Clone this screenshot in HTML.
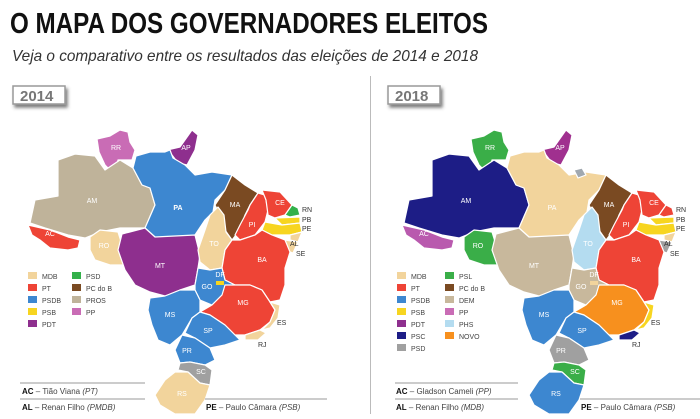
<!DOCTYPE html>
<html><head><meta charset="utf-8"><style>
body{margin:0;background:#fff;width:700px;height:414px;overflow:hidden;font-family:"Liberation Sans",sans-serif;}
</style></head><body>
<svg width="700" height="414" viewBox="0 0 700 414" xmlns="http://www.w3.org/2000/svg" font-family="Liberation Sans Narrow, Liberation Sans, sans-serif">
<defs>
<filter id="sh" x="-20%" y="-20%" width="160%" height="180%"><feDropShadow dx="2" dy="3" stdDeviation="1.5" flood-color="#444" flood-opacity="0.7"/></filter>
<g id="shapes">
</g>
</defs>
<text x="10" y="33" font-size="29" font-weight="bold" fill="#111" textLength="478" lengthAdjust="spacingAndGlyphs">O MAPA DOS GOVERNADORES ELEITOS</text>
<text x="12" y="61" font-size="16" font-style="italic" fill="#333" textLength="466" lengthAdjust="spacingAndGlyphs">Veja o comparativo entre os resultados das eleições de 2014 e 2018</text>
<rect x="13" y="86" width="52" height="18" fill="#fff" stroke="#999" stroke-width="1.5" filter="url(#sh)"/>
<text x="20" y="101" font-size="15" font-weight="bold" fill="#777">2014</text>
<rect x="388" y="86" width="52" height="18" fill="#fff" stroke="#999" stroke-width="1.5" filter="url(#sh)"/>
<text x="395" y="101" font-size="15" font-weight="bold" fill="#777">2018</text>
<line x1="370.5" y1="76" x2="370.5" y2="414" stroke="#bbb" stroke-width="1"/>

<g stroke="#fff" stroke-width="1.2" stroke-linejoin="round" id="m2014">
<polygon fill="#c96cb5" points="97,139 110,136 120,130 128,132 130,142 135,150 132,160 118,160 115,175 105,165 99,152"/>
<polygon fill="#8e2f8e" points="167,150 180,147 192,130 198,135 195,150 187,165 178,163 172,155"/>
<polygon fill="#bfb39a" points="30,223 35,200 58,196 58,160 75,154 95,156 105,170 120,160 133,168 142,185 150,188 155,205 145,228 120,228 100,232 85,238 68,235 45,228"/>
<polygon fill="#ee4436" points="28,225 50,230 68,237 80,240 78,248 68,250 50,248 40,240 32,235"/>
<polygon fill="#f2d49c" points="90,237 100,230 118,232 123,248 132,255 128,265 110,265 95,260 90,250"/>
<polygon fill="#3d87d0" points="136,156 150,152 165,152 170,150 173,158 185,165 195,175 212,172 232,175 225,190 215,200 213,212 205,220 195,235 170,238 155,237 145,228 155,205 150,188 142,185 133,168"/>
<polygon fill="#8e2f8e" points="122,234 145,228 155,237 195,235 200,255 198,268 195,285 180,290 165,296 150,292 135,285 125,270 118,250"/>
<polygon fill="#7a4a22" points="232,175 245,185 258,193 250,205 245,215 240,230 232,240 225,230 220,215 215,205 225,190"/>
<polygon fill="#f2d49c" points="218,207 224,215 226,232 232,240 225,250 222,268 210,270 200,262 198,250 205,230 210,215"/>
<polygon fill="#ee4436" points="258,193 265,195 268,210 265,222 255,235 240,240 235,235 240,225 248,210 250,205"/>
<polygon fill="#ee4436" points="262,190 280,192 292,205 285,215 275,218 268,215 266,200"/>
<polygon fill="#33b04a" points="292,205 298,208 300,215 290,217 285,215"/>
<polygon fill="#f7d520" points="275,218 300,217 300,223 282,225"/>
<polygon fill="#f7d520" points="265,222 282,225 300,223 302,232 290,235 272,235 262,230"/>
<polygon fill="#f2d49c" points="290,235 302,232 298,242 290,240"/>
<polygon fill="#f2d49c" points="285,240 298,242 293,253 285,250"/>
<polygon fill="#ee4436" points="232,240 240,240 255,235 262,230 272,235 285,240 290,252 285,268 285,285 280,300 270,302 262,290 250,285 235,285 225,280 222,268 225,250"/>
<polygon fill="#3d87d0" points="198,268 210,270 222,268 225,280 235,285 222,295 212,305 200,300 195,290 195,285"/>
<rect fill="#f7d520" x="216" y="281" width="8" height="4" stroke="none"/>
<polygon fill="#ee4436" points="225,285 235,285 250,285 262,290 270,302 275,310 270,322 260,330 245,335 235,335 225,325 210,315 200,312 212,305 222,295"/>
<polygon fill="#f2d49c" points="270,302 280,305 278,318 270,328 262,330 270,322 275,310"/>
<polygon fill="#f2d49c" points="245,335 260,330 266,333 258,340 245,340"/>
<polygon fill="#3d87d0" points="150,298 165,296 180,290 195,290 200,300 200,312 192,318 182,335 170,345 158,340 152,325 148,310"/>
<polygon fill="#3d87d0" points="192,318 200,312 210,315 225,325 235,335 240,340 225,345 210,348 195,338 185,333"/>
<polygon fill="#3d87d0" points="182,335 195,338 210,348 215,360 205,365 190,362 180,363 175,350"/>
<polygon fill="#a0a0a0" points="180,363 190,362 205,365 212,370 210,385 200,383 188,372 178,370"/>
<polygon fill="#f2d49c" points="175,372 188,372 200,383 210,385 205,400 195,414 175,414 160,405 155,395 165,380"/>
</g>

<g stroke="#fff" stroke-width="1.2" stroke-linejoin="round" transform="translate(374,0)">
<polygon fill="#3aae48" points="97,139 110,136 120,130 128,132 130,142 135,150 132,160 118,160 115,175 105,165 99,152"/>
<polygon fill="#a0308f" points="167,150 180,147 192,130 198,135 195,150 187,165 178,163 172,155"/>
<polygon fill="#1d1d86" points="30,223 35,200 58,196 58,160 75,154 95,156 105,170 120,160 133,168 142,185 150,188 155,205 145,228 120,228 100,232 85,238 68,235 45,228"/>
<polygon fill="#b95aae" points="28,225 50,230 68,237 80,240 78,248 68,250 50,248 40,240 32,235"/>
<polygon fill="#3aae48" points="90,237 100,230 118,232 123,248 132,255 128,265 110,265 95,260 90,250"/>
<polygon fill="#f2d49c" points="136,156 150,152 165,152 170,150 173,158 185,165 195,175 212,172 232,175 225,190 215,200 213,212 205,220 195,235 170,238 155,237 145,228 155,205 150,188 142,185 133,168"/>
<polygon fill="#a0a8b0" points="200,170 208,168 212,175 204,178"/>
<polygon fill="#c8b89c" points="122,234 145,228 155,237 195,235 200,255 198,268 195,285 180,290 165,296 150,292 135,285 125,270 118,250"/>
<polygon fill="#7a4a22" points="232,175 245,185 258,193 250,205 245,215 240,230 232,240 225,230 220,215 215,205 225,190"/>
<polygon fill="#b4dcf0" points="218,207 224,215 226,232 232,240 225,250 222,268 210,270 200,262 198,250 205,230 210,215"/>
<polygon fill="#ee4436" points="258,193 265,195 268,210 265,222 255,235 240,240 235,235 240,225 248,210 250,205"/>
<polygon fill="#ee4436" points="262,190 280,192 292,205 285,215 275,218 268,215 266,200"/>
<polygon fill="#ee4436" points="292,205 298,208 300,215 290,217 285,215"/>
<polygon fill="#f7d520" points="275,218 300,217 300,223 282,225"/>
<polygon fill="#f7d520" points="265,222 282,225 300,223 302,232 290,235 272,235 262,230"/>
<polygon fill="#f2d49c" points="290,235 302,232 298,242 290,240"/>
<polygon fill="#a0a0a0" points="285,240 298,242 293,253 285,250"/>
<polygon fill="#ee4436" points="232,240 240,240 255,235 262,230 272,235 285,240 290,252 285,268 285,285 280,300 270,302 262,290 250,285 235,285 225,280 222,268 225,250"/>
<polygon fill="#c8b89c" points="198,268 210,270 222,268 225,280 235,285 222,295 212,305 200,300 195,290 195,285"/>
<rect fill="#f2d49c" x="216" y="281" width="8" height="4" stroke="none"/>
<polygon fill="#f7901e" points="225,285 235,285 250,285 262,290 270,302 275,310 270,322 260,330 245,335 235,335 225,325 210,315 200,312 212,305 222,295"/>
<polygon fill="#f7d520" points="270,302 280,305 278,318 270,328 262,330 270,322 275,310"/>
<polygon fill="#1d1d86" points="245,335 260,330 266,333 258,340 245,340"/>
<polygon fill="#3d87d0" points="150,298 165,296 180,290 195,290 200,300 200,312 192,318 182,335 170,345 158,340 152,325 148,310"/>
<polygon fill="#3d87d0" points="192,318 200,312 210,315 225,325 235,335 240,340 225,345 210,348 195,338 185,333"/>
<polygon fill="#a0a0a0" points="182,335 195,338 210,348 215,360 205,365 190,362 180,363 175,350"/>
<polygon fill="#3aae48" points="180,363 190,362 205,365 212,370 210,385 200,383 188,372 178,370"/>
<polygon fill="#3d87d0" points="175,372 188,372 200,383 210,385 205,400 195,414 175,414 160,405 155,395 165,380"/>
</g>

<g font-size="7" fill="#fff" text-anchor="middle">
<text x="116" y="150">RR</text><text x="186" y="150">AP</text><text x="92" y="203">AM</text><text x="50" y="236">AC</text><text x="104" y="248">RO</text><text x="178" y="210" font-weight="bold">PA</text><text x="160" y="268">MT</text><text x="235" y="207">MA</text><text x="214" y="246">TO</text><text x="252" y="227">PI</text><text x="280" y="205">CE</text><text x="262" y="262">BA</text><text x="220" y="277">DF</text><text x="207" y="289">GO</text><text x="243" y="305">MG</text><text x="170" y="317">MS</text><text x="208" y="333">SP</text><text x="187" y="353">PR</text><text x="201" y="374">SC</text><text x="182" y="396">RS</text>
<g transform="translate(374,0)"><text x="116" y="150">RR</text><text x="186" y="150">AP</text><text x="92" y="203">AM</text><text x="50" y="236">AC</text><text x="104" y="248">RO</text><text x="178" y="210">PA</text><text x="160" y="268">MT</text><text x="235" y="207">MA</text><text x="214" y="246">TO</text><text x="252" y="227">PI</text><text x="280" y="205">CE</text><text x="262" y="262">BA</text><text x="220" y="277">DF</text><text x="207" y="289">GO</text><text x="243" y="305">MG</text><text x="170" y="317">MS</text><text x="208" y="333">SP</text><text x="187" y="353">PR</text><text x="201" y="374">SC</text><text x="182" y="396">RS</text></g>
</g>
<g font-size="7" fill="#333">
<text x="302" y="212">RN</text><text x="302" y="222">PB</text><text x="302" y="231">PE</text><text x="290" y="246">AL</text><text x="296" y="256">SE</text><text x="277" y="325">ES</text><text x="258" y="347">RJ</text>
<g transform="translate(374,0)"><text x="302" y="212">RN</text><text x="302" y="222">PB</text><text x="302" y="231">PE</text><text x="290" y="246">AL</text><text x="296" y="256">SE</text><text x="277" y="325">ES</text><text x="258" y="347">RJ</text></g>
</g>

<g font-size="7" fill="#444">
<rect x="28" y="272" width="9" height="7" fill="#f2d49c"/><text x="42" y="279">MDB</text>
<rect x="28" y="284" width="9" height="7" fill="#ee4436"/><text x="42" y="291">PT</text>
<rect x="28" y="296" width="9" height="7" fill="#3d87d0"/><text x="42" y="303">PSDB</text>
<rect x="28" y="308" width="9" height="7" fill="#f7d520"/><text x="42" y="315">PSB</text>
<rect x="28" y="320" width="9" height="7" fill="#8e2f8e"/><text x="42" y="327">PDT</text>
<rect x="72" y="272" width="9" height="7" fill="#33b04a"/><text x="86" y="279">PSD</text>
<rect x="72" y="284" width="9" height="7" fill="#7a4a22"/><text x="86" y="291">PC do B</text>
<rect x="72" y="296" width="9" height="7" fill="#bfb39a"/><text x="86" y="303">PROS</text>
<rect x="72" y="308" width="9" height="7" fill="#c96cb5"/><text x="86" y="315">PP</text>

<rect x="397" y="272" width="9" height="7" fill="#f2d49c"/><text x="411" y="279">MDB</text>
<rect x="397" y="284" width="9" height="7" fill="#ee4436"/><text x="411" y="291">PT</text>
<rect x="397" y="296" width="9" height="7" fill="#3d87d0"/><text x="411" y="303">PSDB</text>
<rect x="397" y="308" width="9" height="7" fill="#f7d520"/><text x="411" y="315">PSB</text>
<rect x="397" y="320" width="9" height="7" fill="#8e2f8e"/><text x="411" y="327">PDT</text>
<rect x="397" y="332" width="9" height="7" fill="#1d1d86"/><text x="411" y="339">PSC</text>
<rect x="397" y="344" width="9" height="7" fill="#a0a0a0"/><text x="411" y="351">PSD</text>
<rect x="445" y="272" width="9" height="7" fill="#3aae48"/><text x="459" y="279">PSL</text>
<rect x="445" y="284" width="9" height="7" fill="#7a4a22"/><text x="459" y="291">PC do B</text>
<rect x="445" y="296" width="9" height="7" fill="#c8b89c"/><text x="459" y="303">DEM</text>
<rect x="445" y="308" width="9" height="7" fill="#c96cb5"/><text x="459" y="315">PP</text>
<rect x="445" y="320" width="9" height="7" fill="#b4dcf0"/><text x="459" y="327">PHS</text>
<rect x="445" y="332" width="9" height="7" fill="#f7901e"/><text x="459" y="339">NOVO</text>
</g>

<g stroke="#999" stroke-width="1">
<line x1="20" y1="383" x2="145" y2="383"/><line x1="20" y1="399" x2="145" y2="399"/><line x1="205" y1="399" x2="327" y2="399"/>
<line x1="395" y1="383" x2="518" y2="383"/><line x1="395" y1="399" x2="518" y2="399"/><line x1="580" y1="399" x2="700" y2="399"/>
</g>
<g font-size="8" fill="#444">
<text x="22" y="394"><tspan font-weight="bold" fill="#111">AC</tspan> – Tião Viana <tspan font-style="italic">(PT)</tspan></text>
<text x="22" y="410"><tspan font-weight="bold" fill="#111">AL</tspan> – Renan Filho <tspan font-style="italic">(PMDB)</tspan></text>
<text x="206" y="410"><tspan font-weight="bold" fill="#111">PE</tspan> – Paulo Câmara <tspan font-style="italic">(PSB)</tspan></text>
<text x="396" y="394"><tspan font-weight="bold" fill="#111">AC</tspan> – Gladson Cameli <tspan font-style="italic">(PP)</tspan></text>
<text x="396" y="410"><tspan font-weight="bold" fill="#111">AL</tspan> – Renan Filho <tspan font-style="italic">(MDB)</tspan></text>
<text x="581" y="410"><tspan font-weight="bold" fill="#111">PE</tspan> – Paulo Câmara <tspan font-style="italic">(PSB)</tspan></text>
</g>
</svg>
</body></html>
